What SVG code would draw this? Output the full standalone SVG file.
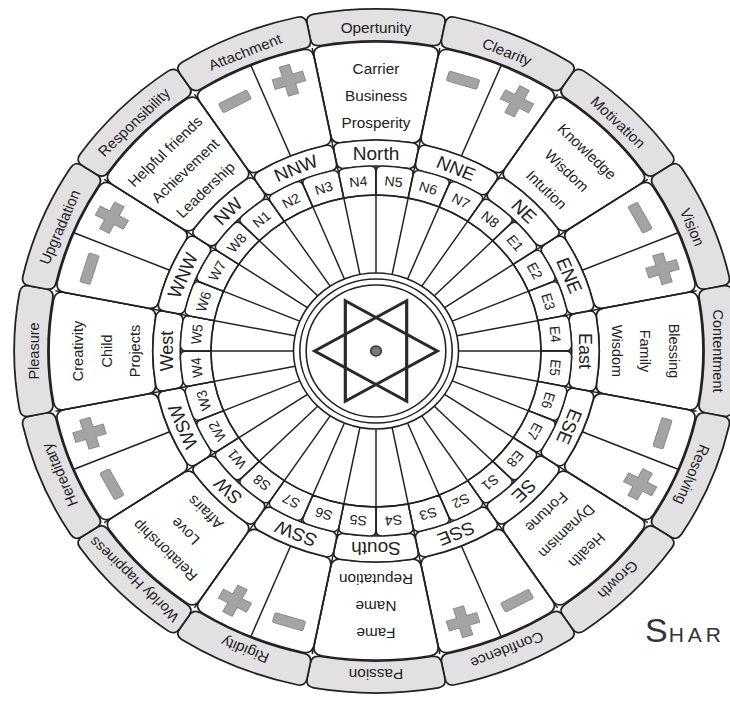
<svg xmlns="http://www.w3.org/2000/svg" width="730" height="704" viewBox="0 0 730 704">
<style>
.box{fill:#e3e0e3;stroke:#222;stroke-width:1.7}
.cell{fill:#fff;stroke:#222;stroke-width:1.6}
.pada{fill:#fff;stroke:#222;stroke-width:1.4}
.sp{stroke:#222;stroke-width:1.4;fill:none}
.ring{fill:none;stroke:#222;stroke-width:1.5}
.sign{fill:#a4a4a4;stroke:#8c8c8c;stroke-width:1}
text{font-family:"Liberation Sans",Arial,sans-serif;fill:#222;text-anchor:middle}
.ol{font-size:14.5px}
.ml{font-size:14.5px}
.dl{font-size:18px}
.pl{font-size:13.5px}
</style>
<defs>
<path id="boxA" class="box" d="M -58.86 -336.90 A 342 342 0 0 1 58.86 -336.90 Q 66.72 -335.43 65.16 -327.58 L 62.04 -311.89 Q 60.48 -304.04 52.61 -305.50 A 310 310 0 0 0 -52.61 -305.50 Q -60.48 -304.04 -62.04 -311.89 L -65.16 -327.58 Q -66.72 -335.43 -58.86 -336.90 Z"/>
<path id="cellB" class="cell" d="M -51.43 -304.69 A 309 309 0 0 1 51.43 -304.69 Q 60.28 -303.06 58.53 -294.24 L 42.92 -215.77 Q 41.16 -206.95 32.30 -208.51 A 211 211 0 0 0 -32.30 -208.51 Q -41.16 -206.95 -42.92 -215.77 L -58.53 -294.24 Q -60.28 -303.06 -51.43 -304.69 Z"/>
<path id="dirC" class="cell" d="M -34.28 -208.20 A 211 211 0 0 1 34.28 -208.20 Q 41.16 -206.95 39.80 -200.08 L 37.46 -188.31 Q 36.09 -181.45 29.20 -182.68 A 185 185 0 0 0 -29.20 -182.68 Q -36.09 -181.45 -37.46 -188.31 L -39.80 -200.08 Q -41.16 -206.95 -34.28 -208.20 Z"/>
<path id="pada" class="pada" d="M -12.15 -184.60 A 185 185 0 0 1 12.15 -184.60 Q 18.13 -184.11 17.55 -178.14 L 15.29 -155.25 A 156 156 0 0 0 -15.29 -155.25 L -17.55 -178.14 Q -18.13 -184.11 -12.15 -184.60 Z"/>
<rect id="minus" class="sign" x="-15" y="-5" width="30" height="10" rx="1.5"/>
<path id="plus" class="sign" d="M-5,-15h10v10h10v10h-10v10h-10v-10h-10v-10h10z"/>
</defs>
<g transform="translate(376,351) scale(1.058,1)">
<g id="outer-ring">
<g id="o-opertunity" transform="rotate(0)"><use href="#boxA"/><text class="ol" y="-318.5">Opertunity</text></g>
<g id="o-clearity" transform="rotate(22.5)"><use href="#boxA"/><text class="ol" y="-318.5">Clearity</text></g>
<g id="o-motivation" transform="rotate(45)"><use href="#boxA"/><text class="ol" y="-318.5">Motivation</text></g>
<g id="o-vision" transform="rotate(67.5)"><use href="#boxA"/><text class="ol" y="-318.5">Vision</text></g>
<g id="o-contentment" transform="rotate(90)"><use href="#boxA"/><text class="ol" y="-318.5">Contentment</text></g>
<g id="o-resolving" transform="rotate(112.5)"><use href="#boxA"/><text class="ol" y="-318.5">Resolving</text></g>
<g id="o-growth" transform="rotate(135)"><use href="#boxA"/><text class="ol" y="-318.5">Growth</text></g>
<g id="o-confidence" transform="rotate(157.5)"><use href="#boxA"/><text class="ol" y="-318.5">Confidence</text></g>
<g id="o-passion" transform="rotate(180)"><use href="#boxA"/><text class="ol" y="-318.5">Passion</text></g>
<g id="o-rigidity" transform="rotate(202.5)"><use href="#boxA"/><text class="ol" y="-318.5">Rigidity</text></g>
<g id="o-worldy" transform="rotate(225)"><use href="#boxA"/><text class="ol" y="-318.5" style="font-size:14px">Worldy Happiness</text></g>
<g id="o-hereditary" transform="rotate(247.5)"><use href="#boxA"/><text class="ol" y="-318.5">Hereditary</text></g>
<g id="o-pleasure" transform="rotate(270)"><use href="#boxA"/><text class="ol" y="-318.5">Pleasure</text></g>
<g id="o-upgradation" transform="rotate(292.5)"><use href="#boxA"/><text class="ol" y="-318.5">Upgradation</text></g>
<g id="o-responsibility" transform="rotate(315)"><use href="#boxA"/><text class="ol" y="-318.5">Responsibility</text></g>
<g id="o-attachment" transform="rotate(337.5)"><use href="#boxA"/><text class="ol" y="-318.5">Attachment</text></g>
</g>
<g id="middle-ring">
<g id="m-north" transform="rotate(0)"><use href="#cellB"/><text class="ml" y="-277">Carrier</text><text class="ml" y="-250">Business</text><text class="ml" y="-223">Prosperity</text></g>
<g id="m-nne" transform="rotate(22.5)"><use href="#cellB"/><line class="sp" y1="-211" y2="-309"/><use href="#minus" transform="rotate(-5.6) translate(0,-283)"/><use href="#plus" transform="rotate(5.6) translate(0,-283)"/></g>
<g id="m-ne" transform="rotate(45)"><use href="#cellB"/><text class="ml" y="-277">Knowledge</text><text class="ml" y="-250">Wisdom</text><text class="ml" y="-223">Intution</text></g>
<g id="m-ene" transform="rotate(67.5)"><use href="#cellB"/><line class="sp" y1="-211" y2="-309"/><use href="#minus" transform="rotate(-5.6) translate(0,-283)"/><use href="#plus" transform="rotate(5.6) translate(0,-283)"/></g>
<g id="m-east" transform="rotate(90)"><use href="#cellB"/><text class="ml" y="-277">Blessing</text><text class="ml" y="-250">Family</text><text class="ml" y="-223">Wisdom</text></g>
<g id="m-ese" transform="rotate(112.5)"><use href="#cellB"/><line class="sp" y1="-211" y2="-309"/><use href="#minus" transform="rotate(-5.6) translate(0,-283)"/><use href="#plus" transform="rotate(5.6) translate(0,-283)"/></g>
<g id="m-se" transform="rotate(135)"><use href="#cellB"/><text class="ml" y="-277">Health</text><text class="ml" y="-250">Dynamism</text><text class="ml" y="-223">Fortune</text></g>
<g id="m-sse" transform="rotate(157.5)"><use href="#cellB"/><line class="sp" y1="-211" y2="-309"/><use href="#minus" transform="rotate(-5.6) translate(0,-283)"/><use href="#plus" transform="rotate(5.6) translate(0,-283)"/></g>
<g id="m-south" transform="rotate(180)"><use href="#cellB"/><text class="ml" y="-277">Fame</text><text class="ml" y="-250">Name</text><text class="ml" y="-223">Reputation</text></g>
<g id="m-ssw" transform="rotate(202.5)"><use href="#cellB"/><line class="sp" y1="-211" y2="-309"/><use href="#minus" transform="rotate(-5.6) translate(0,-283)"/><use href="#plus" transform="rotate(5.6) translate(0,-283)"/></g>
<g id="m-sw" transform="rotate(225)"><use href="#cellB"/><text class="ml" y="-277">Relationship</text><text class="ml" y="-250">Love</text><text class="ml" y="-223">Affairs</text></g>
<g id="m-wsw" transform="rotate(247.5)"><use href="#cellB"/><line class="sp" y1="-211" y2="-309"/><use href="#minus" transform="rotate(-5.6) translate(0,-283)"/><use href="#plus" transform="rotate(5.6) translate(0,-283)"/></g>
<g id="m-west" transform="rotate(270)"><use href="#cellB"/><text class="ml" y="-277">Creativity</text><text class="ml" y="-250">Child</text><text class="ml" y="-223">Projects</text></g>
<g id="m-wnw" transform="rotate(292.5)"><use href="#cellB"/><line class="sp" y1="-211" y2="-309"/><use href="#minus" transform="rotate(-5.6) translate(0,-283)"/><use href="#plus" transform="rotate(5.6) translate(0,-283)"/></g>
<g id="m-nw" transform="rotate(315)"><use href="#cellB"/><text class="ml" y="-277">Helpful friends</text><text class="ml" y="-250">Achievement</text><text class="ml" y="-223">Leadership</text></g>
<g id="m-nnw" transform="rotate(337.5)"><use href="#cellB"/><line class="sp" y1="-211" y2="-309"/><use href="#minus" transform="rotate(-5.6) translate(0,-283)"/><use href="#plus" transform="rotate(5.6) translate(0,-283)"/></g>
</g>
<g id="direction-ring">
<g id="d-north" transform="rotate(0)"><use href="#dirC"/><text class="dl" y="-191.5">North</text></g>
<g id="d-nne" transform="rotate(22.5)"><use href="#dirC"/><text class="dl" y="-191.5">NNE</text></g>
<g id="d-ne" transform="rotate(45)"><use href="#dirC"/><text class="dl" y="-191.5">NE</text></g>
<g id="d-ene" transform="rotate(67.5)"><use href="#dirC"/><text class="dl" y="-191.5">ENE</text></g>
<g id="d-east" transform="rotate(90)"><use href="#dirC"/><text class="dl" y="-191.5">East</text></g>
<g id="d-ese" transform="rotate(112.5)"><use href="#dirC"/><text class="dl" y="-191.5">ESE</text></g>
<g id="d-se" transform="rotate(135)"><use href="#dirC"/><text class="dl" y="-191.5">SE</text></g>
<g id="d-sse" transform="rotate(157.5)"><use href="#dirC"/><text class="dl" y="-191.5">SSE</text></g>
<g id="d-south" transform="rotate(180)"><use href="#dirC"/><text class="dl" y="-191.5">South</text></g>
<g id="d-ssw" transform="rotate(202.5)"><use href="#dirC"/><text class="dl" y="-191.5">SSW</text></g>
<g id="d-sw" transform="rotate(225)"><use href="#dirC"/><text class="dl" y="-191.5">SW</text></g>
<g id="d-wsw" transform="rotate(247.5)"><use href="#dirC"/><text class="dl" y="-191.5">WSW</text></g>
<g id="d-west" transform="rotate(270)"><use href="#dirC"/><text class="dl" y="-191.5">West</text></g>
<g id="d-wnw" transform="rotate(292.5)"><use href="#dirC"/><text class="dl" y="-191.5">WNW</text></g>
<g id="d-nw" transform="rotate(315)"><use href="#dirC"/><text class="dl" y="-191.5">NW</text></g>
<g id="d-nnw" transform="rotate(337.5)"><use href="#dirC"/><text class="dl" y="-191.5">NNW</text></g>
</g>
<g id="pada-ring">
<g id="p-n1" transform="rotate(-39.375)"><use href="#pada"/><text class="pl" y="-165.5">N1</text></g>
<g id="p-n2" transform="rotate(-28.125)"><use href="#pada"/><text class="pl" y="-165.5">N2</text></g>
<g id="p-n3" transform="rotate(-16.875)"><use href="#pada"/><text class="pl" y="-165.5">N3</text></g>
<g id="p-n4" transform="rotate(-5.625)"><use href="#pada"/><text class="pl" y="-165.5">N4</text></g>
<g id="p-n5" transform="rotate(5.625)"><use href="#pada"/><text class="pl" y="-165.5">N5</text></g>
<g id="p-n6" transform="rotate(16.875)"><use href="#pada"/><text class="pl" y="-165.5">N6</text></g>
<g id="p-n7" transform="rotate(28.125)"><use href="#pada"/><text class="pl" y="-165.5">N7</text></g>
<g id="p-n8" transform="rotate(39.375)"><use href="#pada"/><text class="pl" y="-165.5">N8</text></g>
<g id="p-e1" transform="rotate(50.625)"><use href="#pada"/><text class="pl" y="-165.5">E1</text></g>
<g id="p-e2" transform="rotate(61.875)"><use href="#pada"/><text class="pl" y="-165.5">E2</text></g>
<g id="p-e3" transform="rotate(73.125)"><use href="#pada"/><text class="pl" y="-165.5">E3</text></g>
<g id="p-e4" transform="rotate(84.375)"><use href="#pada"/><text class="pl" y="-165.5">E4</text></g>
<g id="p-e5" transform="rotate(95.625)"><use href="#pada"/><text class="pl" y="-165.5">E5</text></g>
<g id="p-e6" transform="rotate(106.875)"><use href="#pada"/><text class="pl" y="-165.5">E6</text></g>
<g id="p-e7" transform="rotate(118.125)"><use href="#pada"/><text class="pl" y="-165.5">E7</text></g>
<g id="p-e8" transform="rotate(129.375)"><use href="#pada"/><text class="pl" y="-165.5">E8</text></g>
<g id="p-s1" transform="rotate(140.625)"><use href="#pada"/><text class="pl" y="-165.5">S1</text></g>
<g id="p-s2" transform="rotate(151.875)"><use href="#pada"/><text class="pl" y="-165.5">S2</text></g>
<g id="p-s3" transform="rotate(163.125)"><use href="#pada"/><text class="pl" y="-165.5">S3</text></g>
<g id="p-s4" transform="rotate(174.375)"><use href="#pada"/><text class="pl" y="-165.5">S4</text></g>
<g id="p-s5" transform="rotate(185.625)"><use href="#pada"/><text class="pl" y="-165.5">S5</text></g>
<g id="p-s6" transform="rotate(196.875)"><use href="#pada"/><text class="pl" y="-165.5">S6</text></g>
<g id="p-s7" transform="rotate(208.125)"><use href="#pada"/><text class="pl" y="-165.5">S7</text></g>
<g id="p-s8" transform="rotate(219.375)"><use href="#pada"/><text class="pl" y="-165.5">S8</text></g>
<g id="p-w1" transform="rotate(230.625)"><use href="#pada"/><text class="pl" y="-165.5">W1</text></g>
<g id="p-w2" transform="rotate(241.875)"><use href="#pada"/><text class="pl" y="-165.5">W2</text></g>
<g id="p-w3" transform="rotate(253.125)"><use href="#pada"/><text class="pl" y="-165.5">W3</text></g>
<g id="p-w4" transform="rotate(264.375)"><use href="#pada"/><text class="pl" y="-165.5">W4</text></g>
<g id="p-w5" transform="rotate(275.625)"><use href="#pada"/><text class="pl" y="-165.5">W5</text></g>
<g id="p-w6" transform="rotate(286.875)"><use href="#pada"/><text class="pl" y="-165.5">W6</text></g>
<g id="p-w7" transform="rotate(298.125)"><use href="#pada"/><text class="pl" y="-165.5">W7</text></g>
<g id="p-w8" transform="rotate(309.375)"><use href="#pada"/><text class="pl" y="-165.5">W8</text></g>
</g>
<g id="connectors">
<circle class="ring" r="156"/>
<g class="sp">
<line y1="-78" y2="-309" transform="rotate(11.25)"/>
<line y1="-78" y2="-309" transform="rotate(33.75)"/>
<line y1="-78" y2="-309" transform="rotate(56.25)"/>
<line y1="-78" y2="-309" transform="rotate(78.75)"/>
<line y1="-78" y2="-309" transform="rotate(101.25)"/>
<line y1="-78" y2="-309" transform="rotate(123.75)"/>
<line y1="-78" y2="-309" transform="rotate(146.25)"/>
<line y1="-78" y2="-309" transform="rotate(168.75)"/>
<line y1="-78" y2="-309" transform="rotate(191.25)"/>
<line y1="-78" y2="-309" transform="rotate(213.75)"/>
<line y1="-78" y2="-309" transform="rotate(236.25)"/>
<line y1="-78" y2="-309" transform="rotate(258.75)"/>
<line y1="-78" y2="-309" transform="rotate(281.25)"/>
<line y1="-78" y2="-309" transform="rotate(303.75)"/>
<line y1="-78" y2="-309" transform="rotate(326.25)"/>
<line y1="-78" y2="-309" transform="rotate(348.75)"/>
<line y1="-78" y2="-185" transform="rotate(0)"/>
<line y1="-78" y2="-185" transform="rotate(22.5)"/>
<line y1="-78" y2="-185" transform="rotate(45)"/>
<line y1="-78" y2="-185" transform="rotate(67.5)"/>
<line y1="-78" y2="-185" transform="rotate(90)"/>
<line y1="-78" y2="-185" transform="rotate(112.5)"/>
<line y1="-78" y2="-185" transform="rotate(135)"/>
<line y1="-78" y2="-185" transform="rotate(157.5)"/>
<line y1="-78" y2="-185" transform="rotate(180)"/>
<line y1="-78" y2="-185" transform="rotate(202.5)"/>
<line y1="-78" y2="-185" transform="rotate(225)"/>
<line y1="-78" y2="-185" transform="rotate(247.5)"/>
<line y1="-78" y2="-185" transform="rotate(270)"/>
<line y1="-78" y2="-185" transform="rotate(292.5)"/>
<line y1="-78" y2="-185" transform="rotate(315)"/>
<line y1="-78" y2="-185" transform="rotate(337.5)"/>
</g>
</g>
<g id="center">
<circle class="ring" r="78"/>
<circle class="ring" r="72"/>
<circle class="ring" r="66"/>
<polygon points="-58,0 29,-50.23 29,50.23" fill="none" stroke="#2a2a2a" stroke-width="3"/>
<polygon points="58,0 -29,-50.23 -29,50.23" fill="none" stroke="#2a2a2a" stroke-width="3"/>
<circle r="5" fill="#777" stroke="#333" stroke-width="1.5"/>
</g>
</g>
<text id="signature" x="645" y="642" style="text-anchor:start;fill:#333;font-size:21px;letter-spacing:4px"><tspan style="font-size:34px;letter-spacing:1px">S</tspan>HAR</text>
</svg>
